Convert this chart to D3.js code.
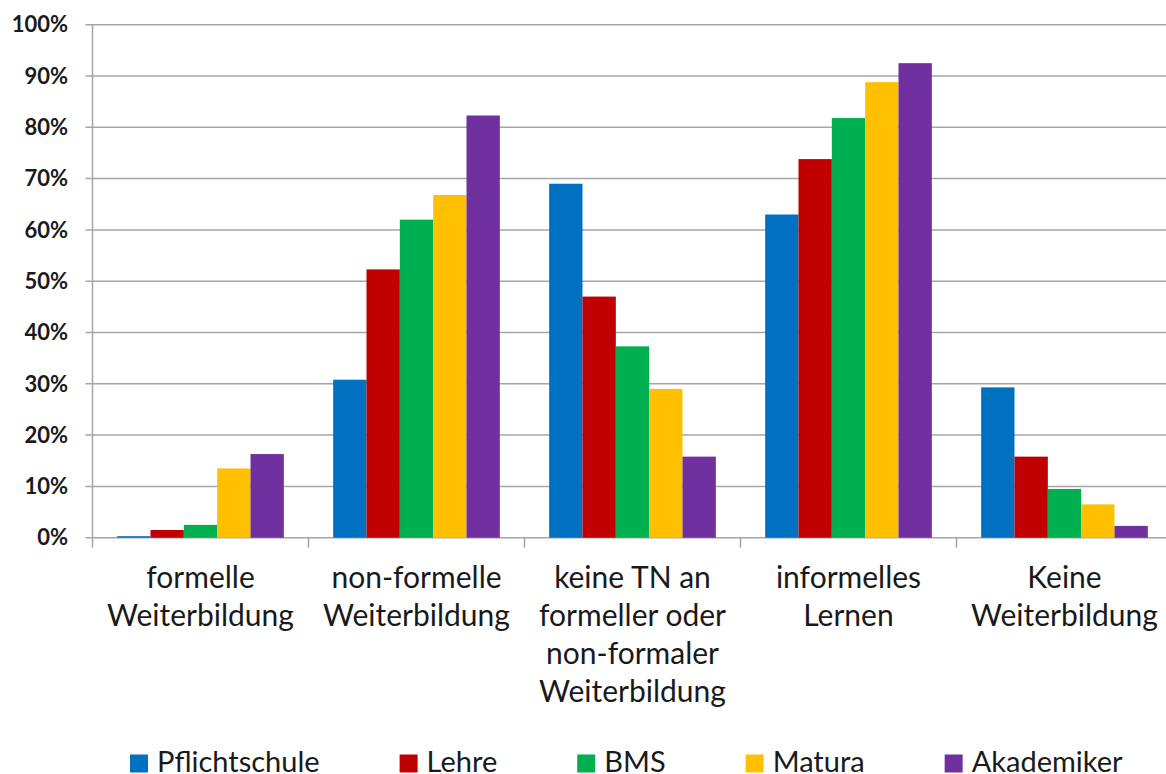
<!DOCTYPE html>
<html><head><meta charset="utf-8">
<script src="https://cdn.jsdelivr.net/npm/d3@7"></script>
<style>html,body{margin:0;padding:0;background:#fff;overflow:hidden}</style>
</head><body>
<svg id="c" width="1166" height="774"></svg>
<script>
const categories = [
  ["formelle","Weiterbildung"],
  ["non-formelle","Weiterbildung"],
  ["keine TN an","formeller oder","non-formaler","Weiterbildung"],
  ["informelles","Lernen"],
  ["Keine","Weiterbildung"]
];
const seriesNames = ["Pflichtschule","Lehre","BMS","Matura","Akademiker"];
const pflichtschule = [0.003, 0.308, 0.690, 0.630, 0.293];
const lehre         = [0.015, 0.523, 0.470, 0.738, 0.158];
const bms           = [0.025, 0.620, 0.373, 0.818, 0.095];
const matura        = [0.135, 0.668, 0.290, 0.888, 0.065];
const akademiker    = [0.163, 0.823, 0.158, 0.925, 0.023];
const yTicks = [0,0.1,0.2,0.3,0.4,0.5,0.6,0.7,0.8,0.9,1.0];
const colors = ["#0070C0","#C00000","#00B050","#FFC000","#7030A0"];

const seriesValues = [pflichtschule, lehre, bms, matura, akademiker];
const svg = d3.select("#c");
const FONT = "Lato, 'Open Sans', sans-serif";
const pLeft = 92.5, pRight = 1172.5, pTop = 24.7, pBottom = 537.7;

const x0 = d3.scaleBand().domain(d3.range(categories.length)).range([pLeft, pRight]).paddingInner(0).paddingOuter(0);
const x1 = d3.scaleBand().domain(d3.range(seriesNames.length)).range([0, x0.bandwidth()]).paddingInner(0).paddingOuter(0.74);
const y = d3.scaleLinear().domain([0,1]).range([pBottom, pTop]);

// gridlines
svg.append("g").selectAll("line").data(yTicks).join("line")
  .attr("x1", pLeft - 7).attr("x2", pRight)
  .attr("y1", d => y(d)).attr("y2", d => y(d))
  .attr("stroke", "#a6a6a6").attr("stroke-width", 1.5);

// y axis labels
svg.append("g").selectAll("text").data(yTicks).join("text")
  .attr("x", 68).attr("y", d => y(d)).attr("dy", "0.35em")
  .attr("text-anchor", "end")
  .attr("font-family", FONT).attr("font-weight", "bold").attr("font-size", 22)
  .attr("fill", "#1a1a1a")
  .text(d3.format(".0%"));

// bars
const gCat = svg.append("g").selectAll("g").data(categories).join("g")
  .attr("transform", (d,i) => `translate(${x0(i)},0)`);
gCat.selectAll("rect").data((d,i) => seriesValues.map((s,k) => ({k, v: s[i]}))).join("rect")
  .attr("x", d => x1(d.k)).attr("width", x1.bandwidth())
  .attr("y", d => y(d.v)).attr("height", d => pBottom - y(d.v))
  .attr("fill", d => colors[d.k]);

// y axis line
svg.append("line").attr("x1", pLeft).attr("x2", pLeft).attr("y1", pTop).attr("y2", pBottom + 10)
  .attr("stroke", "#a6a6a6").attr("stroke-width", 1.5);
// category tick marks
svg.append("g").selectAll("line").data(d3.range(1, categories.length + 1)).join("line")
  .attr("x1", i => pLeft + i * x0.bandwidth()).attr("x2", i => pLeft + i * x0.bandwidth())
  .attr("y1", pBottom).attr("y2", pBottom + 10)
  .attr("stroke", "#a6a6a6").attr("stroke-width", 1.5);

// category labels
svg.append("g").selectAll("text").data(categories).join("text")
  .attr("font-family", FONT).attr("font-size", 30).attr("fill", "#1a1a1a")
  .attr("text-anchor", "middle")
  .attr("transform", (d,i) => `translate(${x0(i) + x0.bandwidth()/2},588)`)
  .selectAll("tspan").data(d => d).join("tspan")
  .attr("x", 0).attr("y", (d,j) => j * 38).text(d => d);

// legend
const lg = svg.append("g");
let lx = 130;
seriesNames.forEach((name, k) => {
  lg.append("rect").attr("x", lx).attr("y", 754.5).attr("width", 18).attr("height", 18).attr("fill", colors[k]);
  const t = lg.append("text").attr("x", lx + 27).attr("y", 772)
    .attr("font-family", FONT).attr("font-size", 29).attr("fill", "#1a1a1a").text(name);
  lx += 27 + t.node().getComputedTextLength() + 80;
});
</script>
</body></html>
